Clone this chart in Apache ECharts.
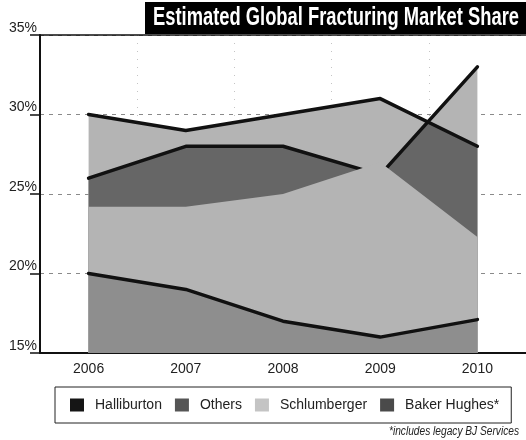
<!DOCTYPE html>
<html>
<head>
<meta charset="utf-8">
<script src="https://cdn.jsdelivr.net/npm/echarts@6/dist/echarts.min.js"></script>
<style>
html,body{margin:0;padding:0;background:#fff;}
#chart{width:526px;height:440px;}
</style>
</head>
<body>
<div id="chart"></div>
<script>
// ---- data ----
const years = ['2006', '2007', '2008', '2009', '2010'];
const yMin = 15, yMax = 35, yStep = 5;
const topLine = [30, 29, 30, 31, 28];          // upper black line
const crossLine = [26, 28, 28, 26.2, 33];      // black line that crosses in 2009-2010
const othersEdge = [24.2, 24.2, 25, 27, 22.3]; // lower edge of the dark band
const bakerHughes = [20, 19, 17, 16, 17.1];    // bottom black line
const legendNames = ['Halliburton', 'Others', 'Schlumberger', 'Baker Hughes*'];
const titleText = 'Estimated Global Fracturing Market Share';
const noteText = '*includes legacy BJ Services';

// ---- helpers ----
const pairs = arr => arr.map((v, i) => [i, v]);
function lowerEnvelope(a, b) {
  const pts = [];
  for (let i = 0; i < a.length; i++) {
    pts.push([i, Math.min(a[i], b[i])]);
    if (i < a.length - 1) {
      const d0 = a[i] - b[i], d1 = a[i + 1] - b[i + 1];
      if (d0 * d1 < 0) {
        const t = d0 / (d0 - d1);
        pts.push([i + t, a[i] + (a[i + 1] - a[i]) * t]);
      }
    }
  }
  return pts;
}
function measure(font, text) {
  const c = document.createElement('canvas').getContext('2d');
  c.font = font;
  return c.measureText(text).width;
}

const LIGHT = '#b4b4b4', DARK = '#666666', MID = '#8e8e8e', BLACK = '#111111';
const titleFont = 'bold 25px "Liberation Sans", Arial, sans-serif';
const titleScale = 366 / measure(titleFont, titleText);
const noteFont = 'italic 12px "Liberation Sans", Arial, sans-serif';
const noteScale = 130 / measure(noteFont, noteText);

const base = { type: 'line', xAxisIndex: 1, symbol: 'none', showSymbol: false, animation: false, silent: true };
const area = (name, data, color, z) => Object.assign({}, base, {
  name, data, z,
  itemStyle: { color },
  lineStyle: { width: 0, color },
  areaStyle: { color, opacity: 1, origin: 'start' }
});
const line = (name, data, z) => Object.assign({}, base, {
  name, data, z,
  itemStyle: { color: BLACK },
  lineStyle: { width: 3.5, color: BLACK, cap: 'round', join: 'round' }
});

const chart = echarts.init(document.getElementById('chart'), null, { renderer: 'canvas' });
chart.setOption({
  animation: false,
  grid: { left: 40, right: 0, top: 35, bottom: 87, containLabel: false },
  xAxis: [
    {
      type: 'category', data: years, boundaryGap: true, position: 'bottom',
      axisLine: { show: true, onZero: false, lineStyle: { color: BLACK, width: 2 } },
      axisTick: { show: false },
      axisLabel: { fontSize: 14, color: '#222', margin: 9, fontFamily: 'Liberation Sans, Arial, sans-serif' },
      splitLine: { show: true, lineStyle: { color: '#c4c4c4', type: [1, 7], width: 1 } }
    },
    {
      type: 'value', min: -0.5, max: 4.5, position: 'top',
      axisLine: { show: true, onZero: false, lineStyle: { color: BLACK, width: 1.5 } },
      axisTick: { show: false }, axisLabel: { show: false }, splitLine: { show: false }
    }
  ],
  yAxis: {
    type: 'value', min: yMin, max: yMax, interval: yStep, position: 'left',
    axisLine: { show: true, onZero: false, lineStyle: { color: BLACK, width: 2 } },
    axisTick: { show: true, length: 10, lineStyle: { color: BLACK, width: 1.5 } },
    axisLabel: { formatter: '{value}%', fontSize: 14, color: '#222', margin: 3, verticalAlign: 'bottom',
                 fontFamily: 'Liberation Sans, Arial, sans-serif' },
    splitLine: { show: true, lineStyle: { color: '#8a8a8a', type: [4, 5], width: 1 } }
  },
  legend: {
    left: 55, top: 387, orient: 'horizontal',
    icon: 'rect', itemWidth: 14, itemHeight: 13, itemGap: 13,
    padding: [11, 12, 11, 15],
    borderColor: '#222', borderWidth: 1,
    selectedMode: false,
    textStyle: { fontSize: 14, color: '#222', padding: [0, 0, 0, 6], fontFamily: 'Liberation Sans, Arial, sans-serif' },
    data: [
      { name: legendNames[0], itemStyle: { color: '#151515', borderWidth: 0 } },
      { name: legendNames[1], itemStyle: { color: '#555555', borderWidth: 0 } },
      { name: legendNames[2], itemStyle: { color: '#c4c4c4', borderWidth: 0 } },
      { name: legendNames[3], itemStyle: { color: '#4a4a4a', borderWidth: 0 } }
    ]
  },
  series: [
    area(legendNames[2], pairs(crossLine), LIGHT, 2),
    area(legendNames[2], pairs(topLine), LIGHT, 3),
    area(legendNames[1], lowerEnvelope(topLine, crossLine), DARK, 4),
    line(legendNames[0], pairs(crossLine), 5),
    area(legendNames[2], pairs(othersEdge), LIGHT, 6),
    Object.assign(area(legendNames[3], pairs(bakerHughes), MID, 7), {
      lineStyle: { width: 3.5, color: BLACK, cap: 'round', join: 'round' }
    }),
    line(legendNames[0], pairs(topLine), 8)
  ],
  graphic: [
    { type: 'rect', shape: { x: 145, y: 2, width: 381, height: 32 }, style: { fill: '#000' }, z: 100 },
    { type: 'text', x: 153, y: 18, scaleX: titleScale, z: 101,
      style: { text: titleText, fill: '#fff', font: titleFont, verticalAlign: 'middle', align: 'left' } },
    { type: 'text', x: 519, y: 432, scaleX: noteScale, z: 101,
      style: { text: noteText, fill: '#222', font: noteFont, verticalAlign: 'middle', align: 'right' } }
  ]
});
</script>
</body>
</html>
